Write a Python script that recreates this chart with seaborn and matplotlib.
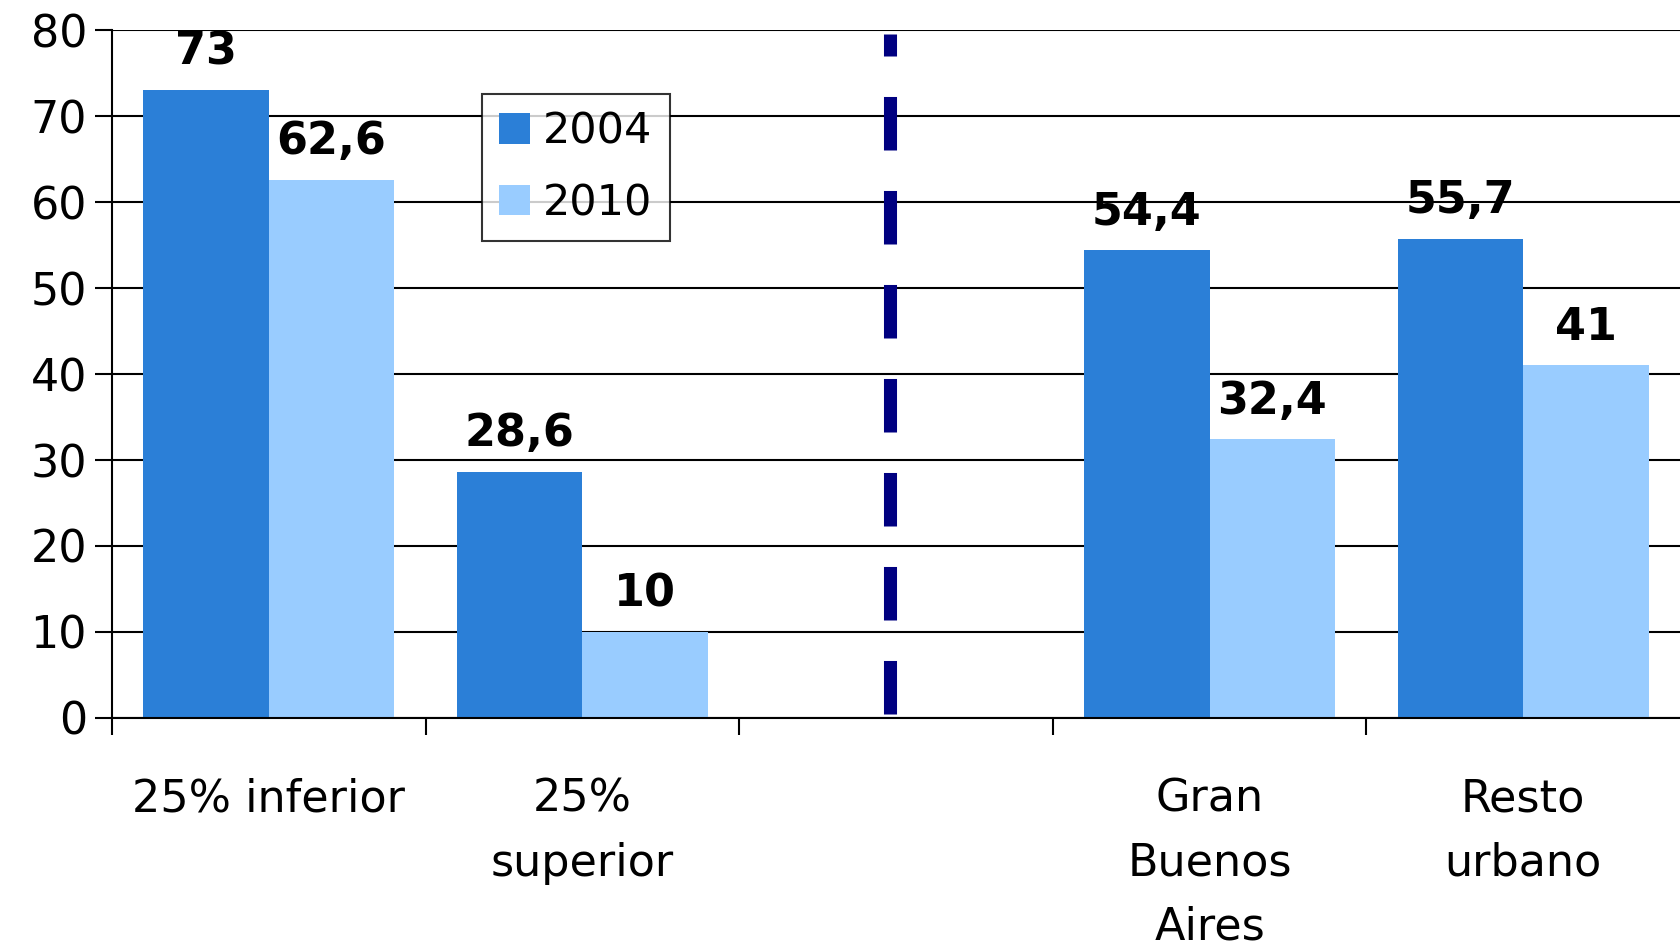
import numpy as np
import pandas as pd
import matplotlib
matplotlib.use('Agg')
import matplotlib.pyplot as plt
import seaborn as sns

# data
categories = ['25% inferior', '25%\nsuperior', '', 'Gran\nBuenos\nAires', 'Resto\nurbano']
years = ['2004', '2010']
values_2004 = [73, 28.6, np.nan, 54.4, 55.7]
values_2010 = [62.6, 10, np.nan, 32.4, 41]
yticks = [0, 10, 20, 30, 40, 50, 60, 70, 80]

colors = {'2004': '#2B7FD7', '2010': '#99CCFF'}

df = pd.DataFrame({
    'cat': categories * 2,
    'year': ['2004'] * len(categories) + ['2010'] * len(categories),
    'value': values_2004 + values_2010,
})

sns.set_style('white')
plt.rcParams['font.family'] = ['DejaVu Sans']
plt.rcParams['text.color'] = 'black'
plt.rcParams['xtick.color'] = 'black'
plt.rcParams['ytick.color'] = 'black'
plt.rcParams['axes.labelcolor'] = 'black'

fig = plt.figure(figsize=(16.8, 9.47), dpi=100)
ax = fig.add_axes([0.0667, 0.242, 0.9333, 0.726])

sns.barplot(data=df, x='cat', y='value', hue='year', order=categories,
            hue_order=years, palette=colors, width=0.8, saturation=1,
            edgecolor='none', linewidth=0, ax=ax)

# grid lines
ax.set_ylim(0, 80)
ax.set_yticks(yticks)
ax.set_yticklabels([str(t) for t in yticks], fontsize=32)
for t in yticks:
    ax.axhline(t, color='black', lw=1.5, zorder=0.5)
ax.set_axisbelow(True)

# x ticks at category boundaries, labels at centres
n = len(categories)
ax.set_xlim(-0.5, n - 0.5)
ax.set_xticks(np.arange(n) - 0.5)
ax.set_xticklabels([])
ax.set_xticks(np.arange(n), minor=True)
ax.set_xticklabels(categories, minor=True, fontsize=32, linespacing=1.62)
ax.tick_params(axis='x', which='major', bottom=True, length=12, width=1.5,
               color='black', direction='out')
ax.tick_params(axis='x', which='minor', bottom=True, length=0, pad=43)
ax.tick_params(axis='y', left=True, length=12, width=1.5, color='black',
               direction='out', pad=6)
ax.set_xlabel('')
ax.set_ylabel('')

for side in ['top', 'right']:
    ax.spines[side].set_visible(False)
ax.spines['left'].set_linewidth(1.5)
ax.spines['bottom'].set_linewidth(1.5)
ax.spines['left'].set_color('black')
ax.spines['bottom'].set_color('black')

# value labels
for cont in ax.containers:
    for p in cont:
        h = p.get_height()
        if np.isnan(h):
            continue
        txt = f'{h:g}'.replace('.', ',')
        ax.annotate(txt, (p.get_x() + p.get_width() / 2, h), xytext=(0, 12),
                    textcoords='offset points', ha='center', va='bottom',
                    fontsize=32, fontweight='bold')

# dashed separator
ax.plot([1.98, 1.98], [0.4, 79.6], color='#000080', lw=9.4,
        dashes=(4.1, 3.1), solid_capstyle='butt', dash_capstyle='butt', zorder=3)

leg = ax.legend(loc='upper left', bbox_to_anchor=(0.236, 0.908), borderaxespad=0,
                fontsize=31, frameon=True, fancybox=False, edgecolor='black',
                handlelength=0.72, handleheight=0.72, handletextpad=0.3,
                labelspacing=0.68, borderpad=0.4)
leg.get_frame().set_linewidth(1.5)

fig.savefig('out.png', dpi=100)
